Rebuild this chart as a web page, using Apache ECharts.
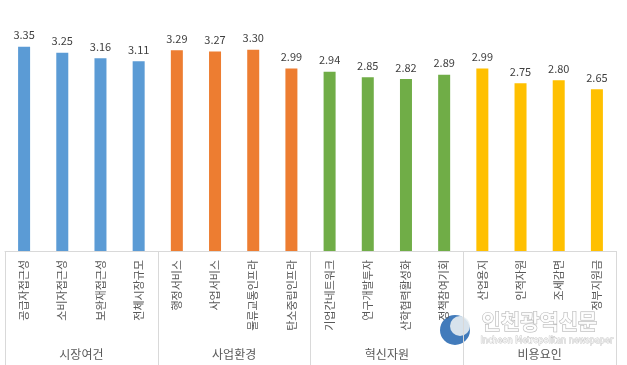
<!DOCTYPE html>
<html><head><meta charset="utf-8">
<script src="https://cdn.jsdelivr.net/npm/echarts@6/dist/echarts.min.js"></script>
<style>html,body{margin:0;padding:0;background:#fff}#c{width:627px;height:365px}</style>
</head><body><div id="c"></div>
<script>
const categories = ['공급자접근성','소비자접근성','보완재접근성','전체시장규모','행정서비스','사업서비스','물류교통인프라','탄소중립인프라','기업간네트워크','연구개발투자','산학협력활성화','정책참여기회','산업용지','인적자원','조세감면','정부지원금'];
const values = [3.35,3.25,3.16,3.11,3.29,3.27,3.30,2.99,2.94,2.85,2.82,2.89,2.99,2.75,2.80,2.65];
const groups = ['시장여건','사업환경','혁신자원','비용요인'];
const groupColors = ['#5B9BD5','#ED7D31','#70AD47','#FFC000'];
const groupSize = 4;

const font = '"Noto Sans CJK KR", "Noto Sans", sans-serif';
const chart = echarts.init(document.getElementById('c'));
chart.setOption({
  animation: false,
  grid: { left: 5, right: 11, top: 7, bottom: 114, containLabel: false, outerBoundsMode: 'none' },
  xAxis: [{
    type: 'category', data: categories, position: 'bottom',
    axisLine: { lineStyle: { color: '#D9D9D9', width: 1 } },
    axisTick: { show: false },
    axisLabel: { rotate: 90, margin: 9, fontSize: 11, color: '#595959', fontFamily: font, interval: 0 }
  }, {
    type: 'category', data: groups, position: 'bottom',
    axisLine: { show: false },
    axisTick: { show: true, length: 116, lineStyle: { color: '#D9D9D9', width: 1 }, alignWithLabel: false },
    axisLabel: { margin: 97, fontSize: 12, color: '#595959', fontFamily: font, interval: 0 }
  }],
  yAxis: { type: 'value', min: 0, max: 4, show: false, splitLine: { show: false } },
  series: [{
    type: 'bar', xAxisIndex: 0, barWidth: 12,
    data: values.map((v, i) => ({ value: v, itemStyle: { color: groupColors[Math.floor(i / groupSize)] } })),
    label: { show: true, position: 'top', distance: 6, fontSize: 11, color: '#404040', fontFamily: font,
      formatter: p => p.value.toFixed(2) }
  }],
  graphic: [
    { type: 'circle', shape: { cx: 455, cy: 330, r: 15 }, style: { fill: '#2E6DB4', opacity: 0.9 } },
    { type: 'circle', shape: { cx: 460, cy: 326, r: 10 }, style: { fill: '#E8EEF2', opacity: 0.9 } },
    { type: 'text', left: 481, top: 310, style: { text: '인천광역신문', font: 'bold 21px "Noto Sans CJK KR"', fill: 'rgba(255,255,255,0.85)', stroke: 'rgba(140,140,140,0.7)', lineWidth: 1 } },
    { type: 'text', left: 480, top: 336, style: { text: 'Incheon Metropolitan newspaper', font: '9px "Liberation Sans Narrow", "DejaVu Sans Condensed", sans-serif', fill: 'rgba(255,255,255,0.9)', stroke: 'rgba(150,150,150,0.6)', lineWidth: 0.8 } }
  ]
});
</script></body></html>
